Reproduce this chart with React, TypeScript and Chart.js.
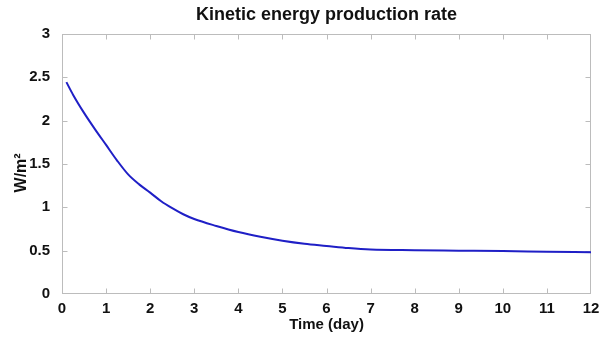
import React, { useEffect, useRef } from "react";
import { Chart, registerables } from "chart.js";

Chart.register(...registerables);

// ---- data ----
const timeDays = [0.1, 0.25, 0.5, 0.75, 1.0, 1.25, 1.5, 1.75, 2.0, 2.25, 2.5, 2.75, 3.0, 3.5, 4.0, 4.5, 5.0, 5.5, 6.0, 6.5, 7.0, 8, 9, 10, 11, 12];
const energyRate = [2.445, 2.3, 2.09, 1.9, 1.72, 1.54, 1.38, 1.265, 1.17, 1.07, 0.99, 0.92, 0.865, 0.785, 0.715, 0.66, 0.615, 0.58, 0.555, 0.53, 0.513, 0.505, 0.5, 0.495, 0.488, 0.482];
const xRange = [0, 12];
const yRange = [0, 3];
const xStep = 1;
const yStep = 0.5;
const titleText = "Kinetic energy production rate";
const xTitle = "Time (day)";
const yTitle = "W/m\u00B2    ";

const FONT = '"Liberation Sans", Arial, Helvetica, sans-serif';

const boxPlugin = {
  id: "matlabBox",
  beforeDatasetsDraw(chart: any) {
    const { ctx, chartArea: a, scales } = chart;
    const xs = scales.x;
    const ys = scales.y;
    const L = Math.round(a.left) + 0.5;
    const R = Math.round(a.right) - 0.5;
    const T = Math.round(a.top) + 0.5;
    const B = Math.round(a.bottom) - 0.5;
    const len = 5;
    ctx.save();
    ctx.strokeStyle = "#bcbcbc";
    ctx.lineWidth = 1;
    ctx.strokeRect(L, T, R - L, B - T);
    ctx.beginPath();
    xs.ticks.forEach((t: any) => {
      const px = Math.round(xs.getPixelForValue(t.value)) + 0.5;
      if (px <= L + 1 || px >= R - 1) return;
      ctx.moveTo(px, B);
      ctx.lineTo(px, B - len);
      ctx.moveTo(px, T);
      ctx.lineTo(px, T + len);
    });
    ys.ticks.forEach((t: any) => {
      const py = Math.round(ys.getPixelForValue(t.value)) + 0.5;
      if (py <= T + 1 || py >= B - 1) return;
      ctx.moveTo(L, py);
      ctx.lineTo(L + len, py);
      ctx.moveTo(R, py);
      ctx.lineTo(R - len, py);
    });
    ctx.stroke();
    ctx.restore();
  },
};

export default function App() {
  const ref = useRef<HTMLCanvasElement | null>(null);

  useEffect(() => {
    if (!ref.current) return;
    const chart = new Chart(ref.current, {
      type: "line",
      data: {
        datasets: [
          {
            data: timeDays.map((t, i) => ({ x: t, y: energyRate[i] })),
            borderColor: "#1f1fc6",
            borderWidth: 2,
            pointRadius: 0,
            fill: false,
            cubicInterpolationMode: "monotone",
          },
        ],
      },
      options: {
        responsive: false,
        animation: false,
        devicePixelRatio: 1,
        layout: { padding: { left: 0, right: 9, top: 0, bottom: 0 } },
        plugins: {
          legend: { display: false },
          tooltip: { enabled: false },
          title: {
            display: true,
            text: titleText,
            color: "#111",
            fullSize: false,
            font: { family: FONT, size: 18, weight: "bold" },
            padding: { top: 4.7, bottom: 7.7 },
          },
        },
        scales: {
          x: {
            type: "linear",
            min: xRange[0],
            max: xRange[1],
            grid: { display: false },
            border: { display: false },
            ticks: {
              stepSize: xStep,
              color: "#111",
              padding: -2,
              maxRotation: 0,
              font: { family: FONT, size: 15, weight: "bold" },
            },
            title: {
              display: true,
              text: xTitle,
              color: "#111",
              font: { family: FONT, size: 15, weight: "bold" },
              padding: { top: 0, bottom: 3.5 },
            },
            afterFit: (s: any) => {
              s.height = 43;
              s.paddingLeft = 0;
              s.paddingRight = 0;
            },
          },
          y: {
            type: "linear",
            min: yRange[0],
            max: yRange[1],
            grid: { display: false },
            border: { display: false },
            ticks: {
              stepSize: yStep,
              color: "#111",
              padding: 4,
              font: { family: FONT, size: 15, weight: "bold" },
              callback: (v: any) => String(Math.round(Number(v) * 10) / 10),
            },
            title: {
              display: true,
              text: yTitle,
              color: "#111",
              font: { family: FONT, size: 16, weight: "bold" },
              padding: { top: 12, bottom: 0 },
            },
            afterFit: (s: any) => {
              s.width = 62;
              s.paddingTop = 0;
              s.paddingBottom = 0;
            },
          },
        },
      },
      plugins: [boxPlugin],
    } as any);
    return () => chart.destroy();
  }, []);

  return (
    <div style={{ position: "absolute", left: 0, top: 0, width: 600, height: 337, background: "#fff" }}>
      <canvas ref={ref} width={600} height={337} style={{ width: 600, height: 337, display: "block" }} />
    </div>
  );
}
